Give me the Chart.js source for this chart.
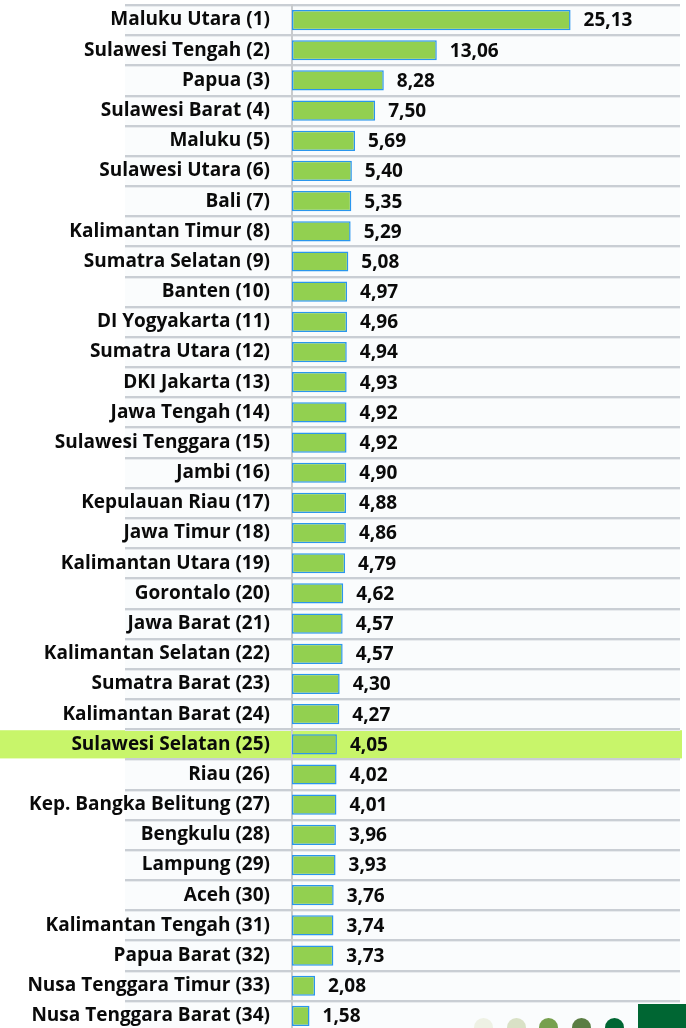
<!DOCTYPE html>
<html>
<head>
<meta charset="utf-8">
<script src="https://cdn.jsdelivr.net/npm/chart.js@4.4.1/dist/chart.umd.min.js"></script>
<style>
  html,body{margin:0;padding:0;background:#fff;overflow:hidden;}
  #wrap{position:relative;width:686px;height:1040px;}
  .dot{position:absolute;width:19px;height:19px;border-radius:50%;top:1018px;}
  #greenBox{position:absolute;left:638px;top:1004px;width:48px;height:30px;background:#006633;}
</style>
</head>
<body>
<div id="wrap">
  <canvas id="chart" width="686" height="1040"></canvas>
  <div class="dot" style="left:474px;background:#eef1e4"></div>
  <div class="dot" style="left:507px;background:#d9e1c6"></div>
  <div class="dot" style="left:539px;background:#77a04e"></div>
  <div class="dot" style="left:572px;background:#5a7d43"></div>
  <div class="dot" style="left:605px;background:#006633"></div>
  <div id="greenBox"></div>
</div>
<script>
// ── data ─────────────────────────────────────────────
const provinces = [
  'Maluku Utara (1)','Sulawesi Tengah (2)','Papua (3)','Sulawesi Barat (4)',
  'Maluku (5)','Sulawesi Utara (6)','Bali (7)','Kalimantan Timur (8)',
  'Sumatra Selatan (9)','Banten (10)','DI Yogyakarta (11)','Sumatra Utara (12)',
  'DKI Jakarta (13)','Jawa Tengah (14)','Sulawesi Tenggara (15)','Jambi (16)',
  'Kepulauan Riau (17)','Jawa Timur (18)','Kalimantan Utara (19)','Gorontalo (20)',
  'Jawa Barat (21)','Kalimantan Selatan (22)','Sumatra Barat (23)','Kalimantan Barat (24)',
  'Sulawesi Selatan (25)','Riau (26)','Kep. Bangka Belitung (27)','Bengkulu (28)',
  'Lampung (29)','Aceh (30)','Kalimantan Tengah (31)','Papua Barat (32)',
  'Nusa Tenggara Timur (33)','Nusa Tenggara Barat (34)'
];
const growth = [
  25.13,13.06,8.28,7.50,5.69,5.40,5.35,5.29,5.08,4.97,4.96,4.94,4.93,4.92,4.92,4.90,
  4.88,4.86,4.79,4.62,4.57,4.57,4.30,4.27,4.05,4.02,4.01,3.96,3.93,3.76,3.74,3.73,
  2.08,1.58
];
const highlightIdx = 24;   // Sulawesi Selatan
const xMax = 35;

const FONT = "'Open Sans', sans-serif";

// background table, row separators and highlight band
const tablePlug = {
  id:'tableRows',
  beforeDraw(chart){
    const ctx=chart.ctx, y=chart.scales.y, {right}=chart.chartArea;
    const step = y.getPixelForValue(1)-y.getPixelForValue(0);
    ctx.save();
    ctx.fillStyle='#fafcfd';
    ctx.fillRect(125, y.top, right-125, y.bottom-y.top);
    // highlight
    const yc = y.getPixelForValue(highlightIdx);
    ctx.fillStyle='#c8f56a';
    ctx.fillRect(0, yc-step/2+1, right+2, step-2);
    // separators
    for(let i=0;i<=provinces.length;i++){
      const ly = Math.round(y.getPixelForValue(i)-step/2);
      ctx.fillStyle='#c9ced4';
      ctx.fillRect(125, ly-1, right-125, 2);
      ctx.fillStyle='#e8ebee';
      ctx.fillRect(125, ly+1, right-125, 1);
    }
    ctx.restore();
  }
};

// value labels at bar end
const valuePlug = {
  id:'values',
  afterDatasetsDraw(chart){
    const ctx=chart.ctx, x=chart.scales.x, y=chart.scales.y;
    ctx.save();
    ctx.font='bold 19px '+FONT;
    ctx.fillStyle='#0a0a0a';
    ctx.textAlign='left';
    ctx.textBaseline='middle';
    growth.forEach((v,i)=>{
      ctx.fillText(v.toFixed(2).replace('.',','), x.getPixelForValue(v)+13, y.getPixelForValue(i)+1);
    });
    ctx.restore();
  }
};

new Chart(document.getElementById('chart'), {
  type:'bar',
  plugins:[tablePlug, valuePlug],
  data:{
    labels:provinces,
    datasets:[{
      data:growth,
      backgroundColor:'#92d050',
      borderColor:'#2a96ee',
      borderWidth:1.5,
      borderSkipped:false,
      barPercentage:0.67,
      categoryPercentage:1
    }]
  },
  options:{
    indexAxis:'y',
    responsive:false, animation:false,
    layout:{padding:{top:5,bottom:9,left:0,right:6}},
    scales:{
      x:{display:false, min:0, max:xMax},
      y:{
        afterFit(s){ s.width=292; s.paddingTop=0; s.paddingBottom=0; },
        grid:{display:false, drawTicks:false},
        border:{display:true, color:'#c8cbce', width:2},
        ticks:{color:'#0a0a0a', padding:22, autoSkip:false,
               font:{family:FONT, weight:'bold', size:19}}
      }
    },
    plugins:{legend:{display:false}, tooltip:{enabled:false}}
  }
});
</script>
</body>
</html>
